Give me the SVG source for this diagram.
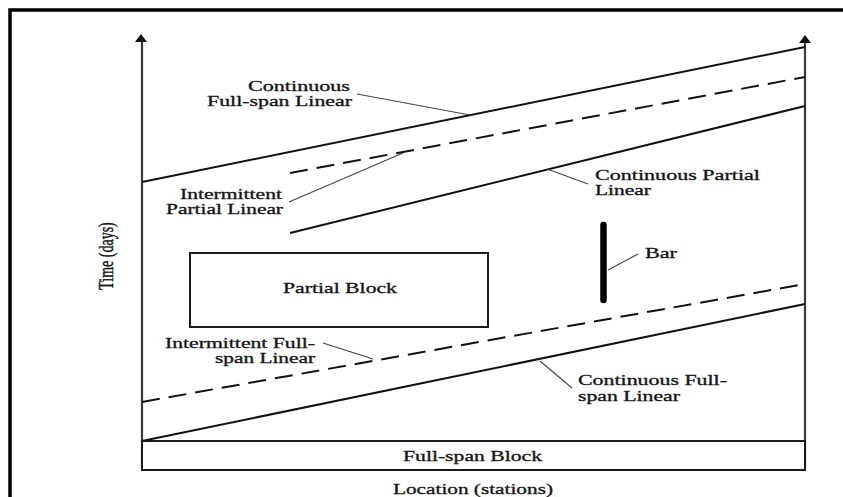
<svg xmlns="http://www.w3.org/2000/svg" width="843" height="497" viewBox="0 0 843 497">
  <defs>
    <style>
      .lbl { font-family: "Liberation Serif", "Times New Roman", serif; font-size: 14px; fill: #151515; stroke: #151515; stroke-width: 0.3; }
      .axis { stroke: #3a3a3a; stroke-width: 2.2; fill: none; }
      .act { stroke: #111; stroke-width: 2; fill: none; }
      .dash { stroke: #111; stroke-width: 2; fill: none; stroke-dasharray: 18 9; }
      .box { stroke: #1a1a1a; stroke-width: 2; fill: #fff; }
      .lead { stroke: #444; stroke-width: 1.1; fill: none; }
      .head { fill: #111; }
    </style>
  </defs>

  <rect width="843" height="497" fill="#fff"/>

  <!-- outer frame (top and left edges) -->
  <path d="M10,497 V10 H843" fill="none" stroke="#000" stroke-width="3.5"/>

  <!-- time axes -->
  <g id="axes">
    <line class="axis" x1="142" y1="470" x2="142" y2="40"/>
    <polygon class="head" points="141,34 135,42 147,42"/>
    <line class="axis" x1="805" y1="470" x2="805" y2="41"/>
    <polygon class="head" points="805,35 799,43 811,43"/>
    <text class="lbl" text-anchor="middle" transform="translate(113,256) scale(1.5,1) rotate(-90)">Time (days)</text>
    <text class="lbl" x="393" y="494" textLength="160" lengthAdjust="spacingAndGlyphs">Location (stations)</text>
  </g>

  <!-- full-span block at the base -->
  <g id="full-span-block">
    <rect class="box" x="142" y="441" width="663" height="29"/>
    <text class="lbl" x="403" y="461" textLength="139" lengthAdjust="spacingAndGlyphs">Full-span Block</text>
  </g>

  <!-- partial block -->
  <g id="partial-block">
    <rect class="box" x="190" y="253" width="298" height="74"/>
    <text class="lbl" x="283" y="293" textLength="114" lengthAdjust="spacingAndGlyphs">Partial Block</text>
  </g>

  <!-- continuous full-span linear (upper) -->
  <g id="cont-full-upper">
    <line class="act" x1="142" y1="182" x2="805" y2="47"/>
    <text class="lbl" x="248" y="91" textLength="102" lengthAdjust="spacingAndGlyphs">Continuous</text>
    <text class="lbl" x="207" y="106" textLength="145" lengthAdjust="spacingAndGlyphs">Full-span Linear</text>
  </g>

  <!-- intermittent partial linear -->
  <g id="int-partial">
    <line class="dash" x1="290" y1="173" x2="805" y2="77"/>
    <text class="lbl" x="180" y="199" textLength="102" lengthAdjust="spacingAndGlyphs">Intermittent</text>
    <text class="lbl" x="166" y="214" textLength="117" lengthAdjust="spacingAndGlyphs">Partial Linear</text>
  </g>

  <!-- continuous partial linear -->
  <g id="cont-partial">
    <line class="act" x1="290" y1="233" x2="805" y2="106"/>
    <text class="lbl" x="595" y="180" textLength="165" lengthAdjust="spacingAndGlyphs">Continuous Partial</text>
    <text class="lbl" x="595" y="195" textLength="56" lengthAdjust="spacingAndGlyphs">Linear</text>
  </g>

  <!-- bar -->
  <g id="bar">
    <line x1="603.5" y1="225" x2="603.5" y2="300" stroke="#000" stroke-width="6.5" stroke-linecap="round"/>
    <text class="lbl" x="645" y="258" textLength="32" lengthAdjust="spacingAndGlyphs">Bar</text>
  </g>

  <!-- intermittent full-span linear -->
  <g id="int-full">
    <line class="dash" x1="142" y1="402" x2="805" y2="284"/>
    <text class="lbl" x="165" y="348" textLength="150" lengthAdjust="spacingAndGlyphs">Intermittent Full-</text>
    <text class="lbl" x="215" y="363" textLength="100" lengthAdjust="spacingAndGlyphs">span Linear</text>
  </g>

  <!-- continuous full-span linear (lower) -->
  <g id="cont-full-lower">
    <line class="act" x1="142" y1="441" x2="805" y2="304"/>
    <text class="lbl" x="578" y="385" textLength="149" lengthAdjust="spacingAndGlyphs">Continuous Full-</text>
    <text class="lbl" x="578" y="401" textLength="102" lengthAdjust="spacingAndGlyphs">span Linear</text>
  </g>

  <!-- label leaders -->
  <g id="connectors">
    <line class="lead" x1="357" y1="94" x2="470" y2="115"/>
    <line class="lead" x1="289" y1="202" x2="403" y2="153"/>
    <line class="lead" x1="547" y1="169" x2="588" y2="184"/>
    <line class="lead" x1="638" y1="254" x2="608" y2="270"/>
    <line class="lead" x1="323" y1="343" x2="373" y2="359"/>
    <line class="lead" x1="540" y1="361" x2="572" y2="388"/>
  </g>
</svg>
